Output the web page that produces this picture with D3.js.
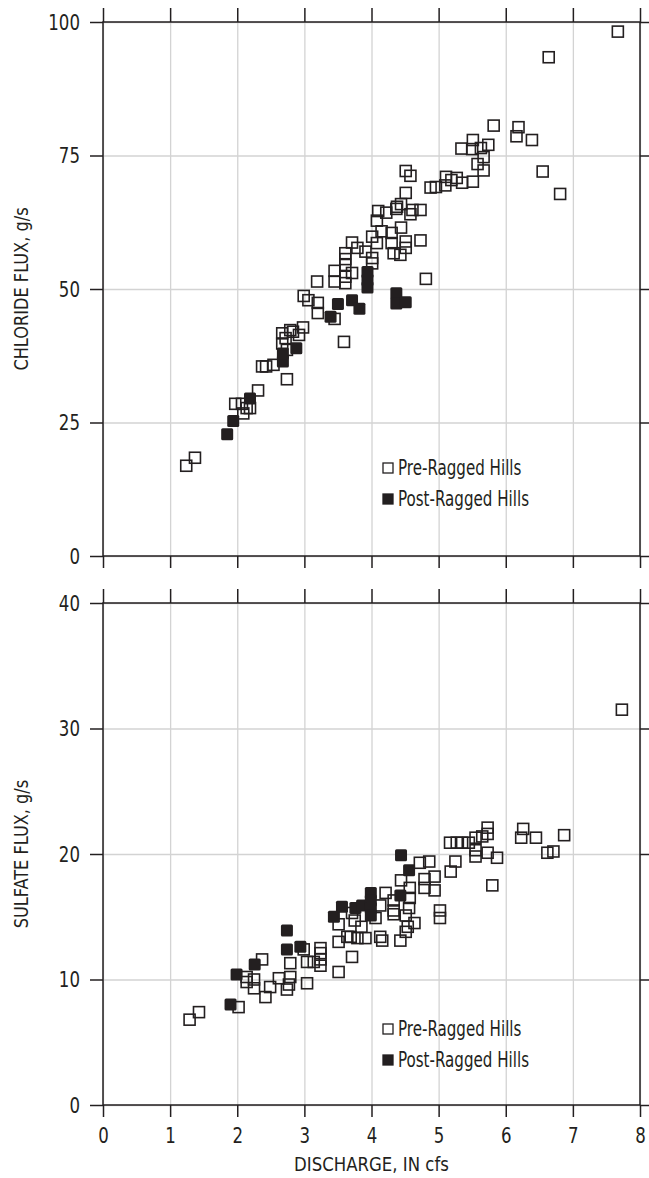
<!DOCTYPE html>
<html>
<head>
<meta charset="utf-8">
<script src="https://cdn.jsdelivr.net/npm/d3@7"></script>
<style>
 body { margin:0; background:#fff; }
 svg text { font-family:'DejaVu Sans Condensed','Liberation Sans Narrow',sans-serif; fill:#231f20; }
</style>
</head>
<body>
<div id="chart"></div>
<script>
// tick values for both panels
const xTicks = [0,1,2,3,4,5,6,7,8];
const chlorideTicks = [0,25,50,75,100];
const sulfateTicks = [0,10,20,30,40];

const legendLabels = ['Pre-Ragged Hills','Post-Ragged Hills'];

// chloride flux vs discharge, [discharge, flux]
const chloridePre = [
 [1.24,16.9],[1.37,18.4],[1.97,28.5],[2.07,28.5],[2.09,26.7],[2.14,27.7],[2.19,27.7],
 [2.31,31.0],[2.37,35.5],[2.43,35.5],[2.54,35.8],[2.67,39.8],[2.67,41.7],[2.72,40.8],
 [2.74,38.6],[2.74,33.1],[2.79,42.3],[2.83,42.0],[2.92,41.4],[2.98,42.8],[2.99,48.7],
 [3.06,47.9],[3.20,47.4],[3.20,45.5],[3.19,51.4],[3.45,44.4],[3.45,53.4],[3.45,51.4],
 [3.59,40.1],[3.61,56.7],[3.61,55.6],[3.61,54.5],[3.61,52.3],[3.61,51.1],[3.71,58.7],
 [3.71,53.0],[3.79,57.7],[3.91,57.0],[4.01,55.8],[4.01,54.8],[4.01,59.8],[4.08,58.6],
 [4.08,62.8],[4.10,64.6],[4.15,60.8],[4.22,64.3],[4.30,60.5],[4.30,58.6],[4.33,56.7],
 [4.37,65.0],[4.38,65.4],[4.43,56.4],[4.44,61.5],[4.44,65.9],[4.51,58.9],[4.51,57.7],
 [4.51,68.0],[4.51,72.1],[4.58,71.2],[4.58,64.0],[4.61,64.8],[4.73,64.8],[4.73,59.1],
 [4.81,51.9],[4.88,69.0],[4.96,69.1],[5.11,71.0],[5.10,69.4],[5.19,70.4],[5.27,70.8],
 [5.35,69.9],[5.34,76.3],[5.50,76.2],[5.51,77.9],[5.51,70.1],[5.58,73.4],[5.63,76.4],
 [5.67,74.7],[5.67,72.2],[5.74,77.0],[5.82,80.6],[6.16,78.6],[6.19,80.3],[6.39,77.9],
 [6.55,72.0],[6.64,93.4],[6.81,67.8],[7.67,98.2]
];
const chloridePost = [
 [1.85,22.8],[1.94,25.3],[2.19,29.5],[2.68,36.4],[2.68,37.9],[2.88,38.9],[3.39,44.8],
 [3.50,47.2],[3.71,47.9],[3.82,46.3],[3.94,50.3],[3.94,51.7],[3.94,53.2],[4.37,49.2],
 [4.37,47.3],[4.51,47.5]
];

// sulfate flux vs discharge, [discharge, flux]
const sulfatePre = [
 [1.29,6.8],[1.43,7.4],[2.02,7.8],[2.14,10.2],[2.14,9.8],[2.25,9.3],[2.25,10.0],
 [2.37,11.6],[2.42,8.6],[2.49,9.4],[2.62,10.1],[2.74,9.2],[2.77,9.6],[2.79,10.2],
 [2.79,11.3],[2.99,12.4],[3.04,11.4],[3.04,9.7],[3.14,11.4],[3.24,12.5],[3.24,12.1],
 [3.24,11.6],[3.24,11.1],[3.51,13.0],[3.51,14.4],[3.51,10.6],[3.64,13.4],[3.69,13.4],
 [3.71,15.3],[3.71,11.8],[3.75,14.7],[3.79,13.3],[3.85,14.2],[3.91,13.3],[4.06,14.9],
 [4.13,15.9],[4.13,13.4],[4.16,13.1],[4.21,16.9],[4.33,16.3],[4.33,15.5],[4.33,15.2],
 [4.43,13.1],[4.44,17.9],[4.51,15.1],[4.51,13.8],[4.54,14.2],[4.56,15.7],[4.57,17.3],
 [4.57,16.5],[4.64,14.5],[4.72,19.3],[4.79,18.0],[4.79,17.3],[4.86,19.4],[4.94,18.2],
 [4.94,17.1],[5.02,15.5],[5.02,14.9],[5.17,20.9],[5.18,18.6],[5.25,19.4],[5.27,20.9],
 [5.35,20.9],[5.45,20.9],[5.55,21.3],[5.55,20.3],[5.55,19.8],[5.65,21.4],[5.73,22.1],
 [5.73,21.6],[5.73,20.1],[5.80,17.5],[5.87,19.7],[6.23,21.3],[6.26,22.0],[6.45,21.3],
 [6.62,20.1],[6.71,20.2],[6.87,21.5],[7.73,31.5]
];
const sulfatePost = [
 [1.90,8.0],[1.99,10.4],[2.26,11.2],[2.74,13.9],[2.74,12.4],[2.94,12.6],[3.44,15.0],
 [3.56,15.8],[3.76,15.7],[3.86,15.9],[3.99,16.9],[3.99,16.3],[3.99,15.7],[3.99,15.1],
 [4.43,16.7],[4.44,19.9],[4.56,18.7]
];

const ink = '#231f20';
const gridColor = '#d3d3d3';

const margin = {left:103, right:9};
const width = 649;
const visWidth = width - margin.left - margin.right;

const svg = d3.select('#chart').append('svg')
    .attr('width', width)
    .attr('height', 1178);

// x scale shared by both panels
const xScale = d3.scaleLinear()
    .domain([0,8])
    .range([0,visWidth]);

// squeeze text horizontally, the original uses a condensed face
function condense(sel, k){
 sel.each(function(){
  const t = d3.select(this);
  const x = +t.attr('x') || 0;
  t.attr('x', x/k)
   .attr('transform', `scale(${k},1)`);
 });
}

function drawPanel(top, height, yMax, yTicks, pre, post, yTitle, legendY, showXLabels){
 const yScale = d3.scaleLinear()
     .domain([0,yMax])
     .range([height,0]);

 const g = svg.append('g')
     .attr('transform', `translate(${margin.left},${top})`);

 // grid lines
 g.append('g')
     .attr('class','grid-x')
     .attr('transform', `translate(0,${height})`)
     .call(d3.axisBottom(xScale).tickValues(xTicks).tickSize(-height).tickFormat(''));
 g.append('g')
     .attr('class','grid-y')
     .call(d3.axisLeft(yScale).tickValues(yTicks).tickSize(-visWidth).tickFormat(''));
 g.selectAll('.grid-x line, .grid-y line')
     .attr('stroke', gridColor)
     .attr('stroke-width', 1.3);
 g.selectAll('.grid-x .domain, .grid-y .domain').remove();

 // frame
 g.append('rect')
     .attr('x',0)
     .attr('y',0)
     .attr('width',visWidth)
     .attr('height',height)
     .attr('fill','none')
     .attr('stroke',ink)
     .attr('stroke-width',1.5);

 // outward tick marks on all four sides
 const left = g.append('g')
     .attr('class','axis-left')
     .call(d3.axisLeft(yScale).tickValues(yTicks).tickSizeInner(13).tickSizeOuter(0).tickPadding(10));
 left.selectAll('text')
     .style('font-size','22px')
     .attr('fill',ink)
     .call(condense, 0.84);

 g.append('g')
     .attr('class','axis-right')
     .attr('transform', `translate(${visWidth},0)`)
     .call(d3.axisRight(yScale).tickValues(yTicks).tickSizeInner(9).tickSizeOuter(0).tickFormat(''));

 g.append('g')
     .attr('class','axis-top')
     .call(d3.axisTop(xScale).tickValues(xTicks).tickSizeInner(14).tickSizeOuter(0).tickFormat(''));

 const bottom = g.append('g')
     .attr('class','axis-bottom')
     .attr('transform', `translate(0,${height})`)
     .call(d3.axisBottom(xScale).tickValues(xTicks).tickSizeInner(12).tickSizeOuter(0).tickPadding(10)
         .tickFormat(showXLabels ? d3.format('d') : ''));
 bottom.selectAll('text')
     .style('font-size','22px')
     .attr('fill',ink)
     .call(condense, 0.84);

 g.selectAll('.axis-left line, .axis-right line, .axis-top line, .axis-bottom line')
     .attr('stroke',ink)
     .attr('stroke-width',1.5);
 g.selectAll('.axis-left .domain, .axis-right .domain, .axis-top .domain, .axis-bottom .domain').remove();

 // open squares first, filled squares on top
 const s = 11;
 g.append('g')
     .selectAll('rect')
     .data(pre)
     .join('rect')
     .attr('x', d=>xScale(d[0]) - s/2)
     .attr('y', d=>yScale(d[1]) - s/2)
     .attr('width', s)
     .attr('height', s)
     .attr('fill','none')
     .attr('stroke',ink)
     .attr('stroke-width',1.6);

 g.append('g')
     .selectAll('rect')
     .data(post)
     .join('rect')
     .attr('x', d=>xScale(d[0]) - (s+1)/2)
     .attr('y', d=>yScale(d[1]) - (s+1)/2)
     .attr('width', s+1)
     .attr('height', s+1)
     .attr('rx',1.5)
     .attr('fill',ink);

 // y title
 svg.append('text')
     .attr('transform', `translate(28,${top + height/2}) rotate(-90) scale(0.9,1)`)
     .attr('text-anchor','middle')
     .style('font-size','20px')
     .text(yTitle);

 // legend
 const legend = g.append('g')
     .attr('transform', `translate(285,${legendY})`);
 legendLabels.forEach((label,i)=>{
  legend.append('rect')
      .attr('x',-5)
      .attr('y',i*31 - 5)
      .attr('width',10)
      .attr('height',10)
      .attr('fill', i===0 ? 'none' : ink)
      .attr('stroke',ink)
      .attr('stroke-width',1.3);
  legend.append('text')
      .attr('x',10)
      .attr('y',i*31)
      .attr('dy','0.35em')
      .style('font-size','21px')
      .text(label)
      .call(condense, 0.8);
 });
}

drawPanel(22, 534, 100, chlorideTicks, chloridePre, chloridePost, 'CHLORIDE FLUX, g/s', 446, false);
drawPanel(603, 502, 40, sulfateTicks, sulfatePre, sulfatePost, 'SULFATE FLUX, g/s', 426, true);

// x title
svg.append('text')
    .attr('x', margin.left + visWidth/2)
    .attr('y', 1171)
    .attr('text-anchor','middle')
    .style('font-size','20px')
    .text('DISCHARGE, IN cfs')
    .call(condense, 0.92);
</script>
</body>
</html>
